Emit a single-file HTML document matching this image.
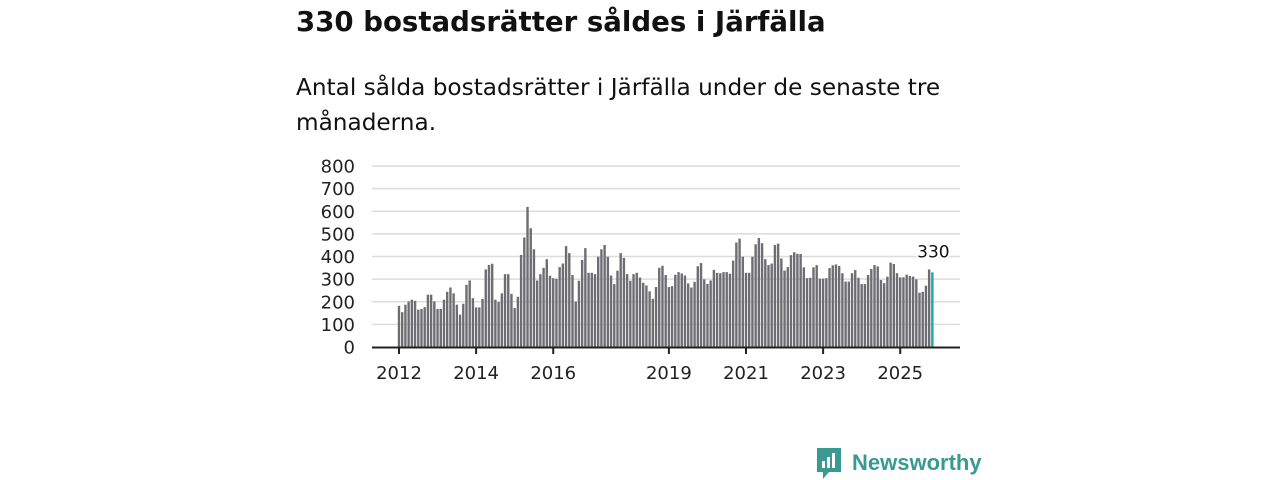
<!DOCTYPE html>
<html><head><meta charset="utf-8"><style>
body{margin:0;width:1280px;height:480px;background:#fff;font-family:"DejaVu Sans","Liberation Sans",sans-serif;overflow:hidden;position:relative}
#title{position:absolute;left:296px;top:5px;font-size:27.6px;font-weight:bold;color:#111;margin:0;white-space:nowrap}
#sub{position:absolute;left:296px;top:70px;width:680px;font-size:23.2px;line-height:35px;color:#111;margin:0}
svg{position:absolute;left:0;top:0}
</style></head><body>
<h1 id="title">330 bostadsrätter såldes i Järfälla</h1>
<p id="sub">Antal sålda bostadsrätter i Järfälla under de senaste tre månaderna.</p>
<svg id="chart" width="1280" height="480"></svg>
<script>
const values=[182,154,187,201,209,204,165,168,176,231,231,201,168,168,209,244,263,237,187,143,191,275,294,216,175,175,212,343,363,368,209,199,237,322,322,235,172,222,407,484,619,
525,432,294,322,350,388,315,304,301,353,369,446,415,318,201,293,385,437,328,328,322,399,432,451,399,316,278,337,415,394,322,293,322,328,307,284,272,246,213,265,350,359,318,265,269,319,331,
325,316,281,263,288,357,371,299,279,294,341,328,326,331,331,324,382,462,479,399,328,328,399,454,482,459,388,362,369,451,457,391,338,353,406,419,412,
411,352,304,306,352,362,302,302,304,349,361,365,358,326,289,289,326,340,306,278,278,318,345,362,356,296,282,311,373,367,326,308,308,320,314,311,299,240,244,271,343,330];
const yTicks=[0,100,200,300,400,500,600,700,800];
const xYears=[2012,2014,2016,2019,2021,2023,2025];
const startYear=2012;
const svg=document.getElementById('chart');const NS='http://www.w3.org/2000/svg';
const x0=372,x1=960,yBase=347,yTop=166,firstX=399;
const step=3.213;
const xs=i=>firstX+i*step;
const ys=v=>yBase-(v/800)*(yBase-yTop);
function mk(t,a){const e=document.createElementNS(NS,t);for(const k in a)e.setAttribute(k,a[k]);svg.appendChild(e);return e;}
yTicks.forEach(v=>{
 if(v>0){const g=mk('line',{x1:x0,x2:x1,y1:ys(v),y2:ys(v),stroke:'#dcdcdc','stroke-width':1.5});
 
 }
 const t=mk('text',{x:355,y:ys(v)+6.5,'text-anchor':'end','font-size':18,fill:'#222'});t.textContent=v;
 
 
});
values.forEach((v,i)=>{
 const last=i===values.length-1;
 const r=mk('rect',{x:xs(i)-1.2,y:ys(v),width:2.4,height:yBase-ys(v),fill:last?'#1aa99c':'#6e6d73'});
 
 
});
const ax=mk('line',{x1:x0,x2:x1,y1:yBase+0.5,y2:yBase+0.5,stroke:'#222','stroke-width':2});


xYears.forEach(y=>{
 const px=xs((y-startYear)*12);
 const tk=mk('line',{x1:px,x2:px,y1:yBase,y2:yBase+7,stroke:'#222','stroke-width':2});
 
 
 const t=mk('text',{x:px,y:379,'text-anchor':'middle','font-size':18,fill:'#222'});t.textContent=y;
 
 
});
const li=values.length-1;
const lb=mk('text',{x:xs(li)+1,y:ys(values[li])-15,'text-anchor':'middle','font-size':17,fill:'#111',stroke:'#fff','stroke-width':4,'paint-order':'stroke'});
lb.textContent=values[li];


</script>
<div style="position:absolute;left:815px;top:446px;display:flex;align-items:center">
 <svg width="28" height="34" style="position:relative"><path d="M2 2h24v24H14l-6 7v-7H2z" fill="#3a9a92"/><rect x="7" y="15" width="3" height="7" fill="#fff"/><rect x="12" y="11" width="3" height="11" fill="#fff"/><rect x="17" y="7" width="3" height="15" fill="#fff"/></svg>
 <span style="font-family:'Liberation Sans',sans-serif;font-size:22px;font-weight:bold;color:#3a9a92;margin-left:9px">Newsworthy</span>
</div>
</body></html>
